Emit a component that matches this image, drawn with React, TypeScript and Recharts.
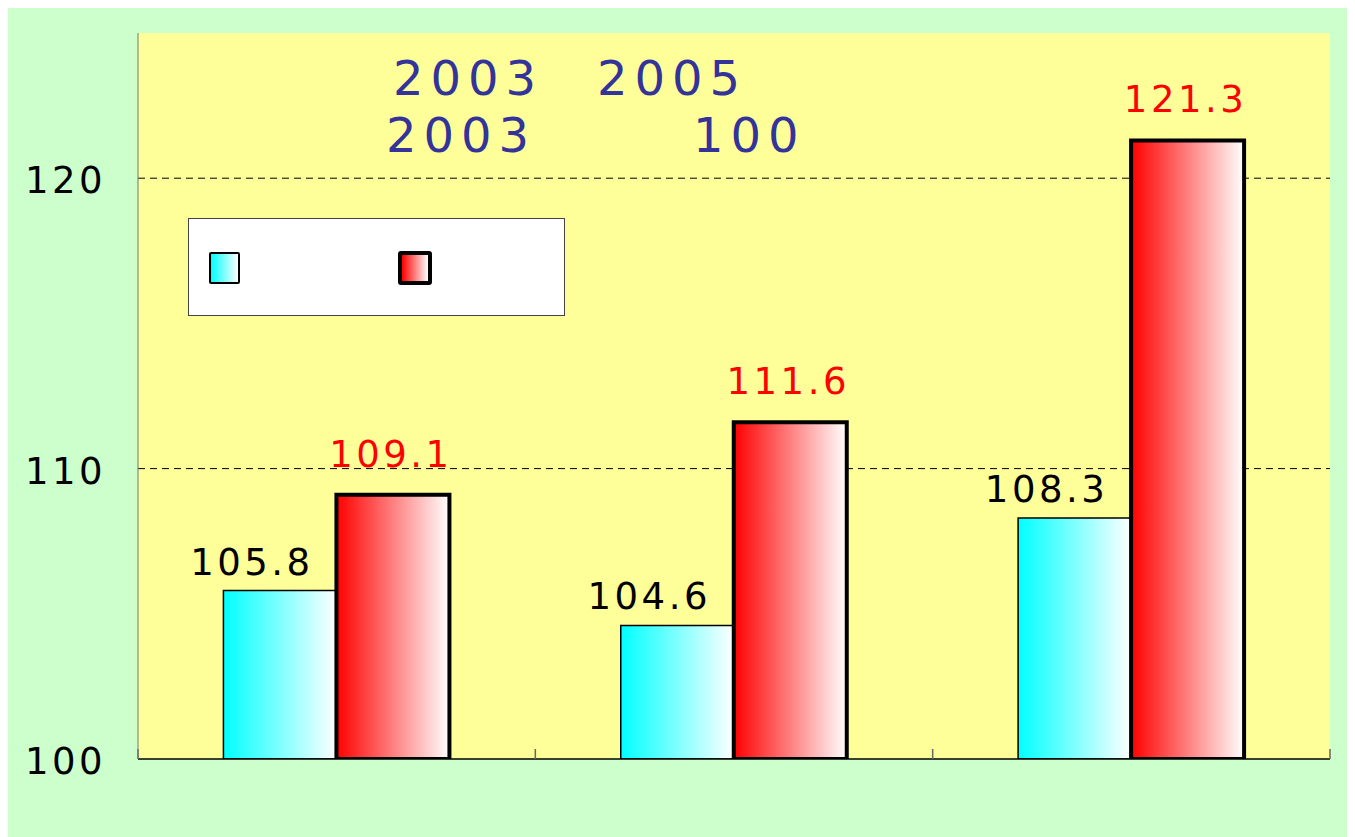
import React from 'react';
import {
    BarChart,
    Bar,
    XAxis,
    YAxis,
    CartesianGrid,
    Legend,
    LabelList,
} from 'recharts';

// category names did not render in the source picture, so they stay blank
const categories = ['c1', 'c2', 'c3'];
const cyanValues = [105.8, 104.6, 108.3];
const redValues = [109.1, 111.6, 121.3];
const yTicks = [100, 110, 120];
const gridValues = [110, 120];
const categoryEdges = [0, 1, 2, 3];
const titleLine1 = ['2003', '2005'];
const titleLine2 = ['2003', '100'];

const data = categories.map((c, i) => ({
    name: c,
    pos: i + 0.5,
    cyan: cyanValues[i],
    red: redValues[i],
}));

const FONT = '"DejaVu Sans", "Noto Sans", sans-serif';

const makeLabel = (color: string, dx: number, lift: number) => (props: any) => {
    const { x, y, width, value } = props;
    return (
        <text
            x={Number(x) + Number(width) / 2 + dx}
            y={Number(y) - lift}
            textAnchor="middle"
            fill={color}
            fontSize={37}
            fontFamily={FONT}
            letterSpacing={3.5}
        >
            {value}
        </text>
    );
};

const LegendBox = () => (
    <div
        style={{
            width: 377,
            height: 98,
            background: '#fff',
            border: '1px solid #444',
            boxSizing: 'border-box',
            position: 'relative',
        }}
    >
        <div
            style={{
                position: 'absolute',
                left: 20,
                top: 33,
                width: 31,
                height: 32,
                boxSizing: 'border-box',
                border: '2px solid #000',
                borderRadius: 2,
                background: 'linear-gradient(to right, #00ffff, #ffffff)',
            }}
        />
        <div
            style={{
                position: 'absolute',
                left: 209,
                top: 32,
                width: 34,
                height: 34,
                boxSizing: 'border-box',
                border: '4px solid #000',
                borderRadius: 3,
                background: 'linear-gradient(to right, #ff0000, #ffffff)',
            }}
        />
    </div>
);

export default function App() {
    return (
        <div style={{ position: 'relative', marginTop: -2, width: 1347, height: 831, background: '#ccffcc' }}>
            <BarChart
                width={1347}
                height={831}
                data={data}
                margin={{ top: 27, right: 25, left: 0, bottom: 0 }}
                barCategoryGap="21.5%"
                barGap={0}
            >
                <defs>
                    <linearGradient id="gradCyan" x1="0" y1="0" x2="1" y2="0">
                        <stop offset="0%" stopColor="#00ffff" />
                        <stop offset="100%" stopColor="#ffffff" />
                    </linearGradient>
                    <linearGradient id="gradRed" x1="0" y1="0" x2="1" y2="0">
                        <stop offset="0%" stopColor="#ff0000" />
                        <stop offset="100%" stopColor="#ffffff" />
                    </linearGradient>
                </defs>
                <CartesianGrid
                    vertical={false}
                    horizontalValues={gridValues}
                    fill="#ffff99"
                    fillOpacity={1}
                    stroke="#000"
                    strokeDasharray="7 5"
                />
                <XAxis
                    xAxisId="edge"
                    dataKey="pos"
                    type="number"
                    scale="linear"
                    domain={[0, 3]}
                    ticks={categoryEdges}
                    allowDataOverflow
                    height={78}
                    tick={() => <g />}
                    tickSize={-10}
                    tickLine={{ stroke: '#666', strokeWidth: 1.5 }}
                    axisLine={{ stroke: '#000', strokeWidth: 1.5 }}
                />
                <XAxis dataKey="name" xAxisId="cat" hide height={0} />
                <YAxis
                    domain={[100, 125]}
                    ticks={yTicks}
                    width={130}
                    allowDataOverflow
                    tickLine={false}
                    tickSize={0}
                    tickMargin={32}
                    axisLine={{ stroke: '#777' }}
                    tick={{ fill: '#000', fontSize: 37, fontFamily: FONT, letterSpacing: 3.5, dy: 2 }}
                />
                <Legend
                    layout="vertical"
                    align="center"
                    verticalAlign="middle"
                    content={() => <LegendBox />}
                    wrapperStyle={{ left: 180, top: 212, width: 377, height: 98 }}
                />
                <Bar
                    xAxisId="cat"
                    dataKey="cyan"
                    fill="url(#gradCyan)"
                    stroke="#000"
                    strokeWidth={1.5}
                    isAnimationActive={false}
                >
                    <LabelList dataKey="cyan" content={makeLabel('#000', -28, 16)} />
                </Bar>
                <Bar
                    xAxisId="cat"
                    dataKey="red"
                    fill="url(#gradRed)"
                    stroke="#000"
                    strokeWidth={4}
                    isAnimationActive={false}
                >
                    <LabelList dataKey="red" content={makeLabel('#ff0000', -2, 28)} />
                </Bar>
            </BarChart>
            <svg
                width={1347}
                height={200}
                style={{ position: 'absolute', left: 0, top: 0, pointerEvents: 'none' }}
            >
                <g fill="#333399" fontSize={48} fontFamily={FONT} letterSpacing={7}>
                    <text x={385} y={89}>{titleLine1[0]}</text>
                    <text x={589} y={89}>{titleLine1[1]}</text>
                    <text x={378} y={146}>{titleLine2[0]}</text>
                    <text x={685} y={146}>{titleLine2[1]}</text>
                </g>
            </svg>
        </div>
    );
}
